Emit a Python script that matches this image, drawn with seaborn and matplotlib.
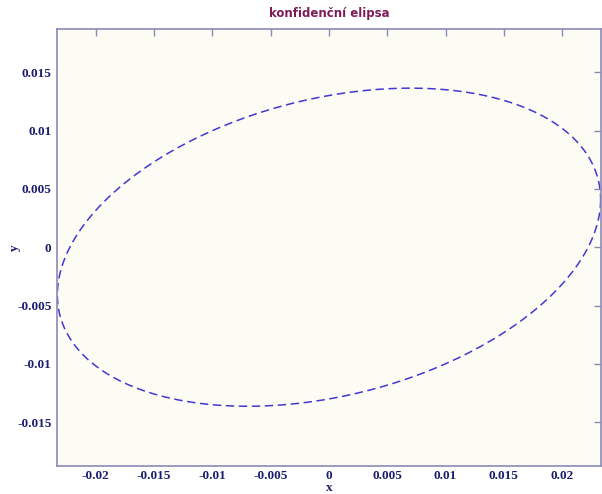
import numpy as np
import pandas as pd
import seaborn as sns
import matplotlib.pyplot as plt

# confidence ellipse parameters
center_x = 0.0
center_y = 0.0
half_width_x = 0.0233    # max |x| of the ellipse
half_height_y = 0.01363  # max |y| of the ellipse
correlation = 0.30       # x at the top point / half_width_x

x_ticks = [-0.02, -0.015, -0.01, -0.005, 0, 0.005, 0.01, 0.015, 0.02]
y_ticks = [-0.015, -0.01, -0.005, 0, 0.005, 0.01, 0.015]
x_tick_labels = ['-0.02', '-0.015', '-0.01', '-0.005', '0', '0.005', '0.01', '0.015', '0.02']
y_tick_labels = ['-0.015', '-0.01', '-0.005', '0', '0.005', '0.01', '0.015']

t = np.linspace(0, 2 * np.pi, 400)
delta = np.arccos(correlation)
df = pd.DataFrame({
    'x': center_x + half_width_x * np.cos(t),
    'y': center_y + half_height_y * np.cos(t + delta),
})

sns.set_style('white')
fig = plt.figure(figsize=(6.02, 4.94), dpi=100)
ax = fig.add_axes([57 / 602, 1 - 466 / 494, 544 / 602, 437 / 494])
ax.set_facecolor('#fcfcf5')

sns.lineplot(data=df, x='x', y='y', sort=False, estimator=None, ax=ax,
             color='#4238d2', linewidth=1.1, dashes=False)
ax.lines[0].set_dashes([5.5, 3])

ax.set_xlim(-0.02333, 0.02333)
ax.set_ylim(-0.01875, 0.01870)

spine_col = '#8a8ab8'
for s in ax.spines.values():
    s.set_color(spine_col)
    s.set_linewidth(1.2)

tick_font = dict(family='Liberation Serif', weight='bold', size=9.5)
ax.set_xticks(x_ticks)
ax.set_xticklabels(x_tick_labels, fontdict=tick_font, color='#1c1c6e')
ax.set_yticks(y_ticks)
ax.set_yticklabels(y_tick_labels, fontdict=tick_font, color='#1c1c6e')
ax.tick_params(direction='in', length=5, width=1, color=spine_col,
               top=True, right=True, pad=4)
ax.tick_params(axis='x', pad=3)

ax.set_xlabel('x', fontdict=tick_font, color='#1c1c6e', labelpad=0)
ax.set_ylabel('y', fontdict=tick_font, color='#1c1c6e', labelpad=-3)
ax.set_title('konfidenční elipsa', fontsize=8.5, fontweight='bold',
             color='#7f1c58', family='DejaVu Sans', pad=9)

fig.savefig('out.png', dpi=100)
